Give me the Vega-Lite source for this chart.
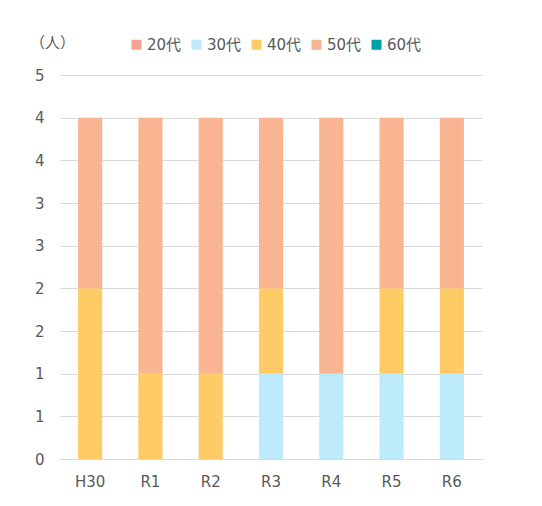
{
  "$schema": "https://vega.github.io/schema/vega-lite/v6.json",
  "width": 422,
  "height": 384,
  "autosize": {"type": "none"},
  "padding": {"left": 60, "top": 75, "right": 60, "bottom": 47},
  "background": "white",
  "config": {
    "view": {"stroke": null},
    "font": "DejaVu Sans, Noto Sans CJK JP, sans-serif",
    "axis": {"labelFont": "DejaVu Sans, Noto Sans CJK JP", "labelFontSize": 15, "labelColor": "#595959", "titleColor": "#595959"},
    "legend": {"labelFont": "DejaVu Sans, Noto Sans CJK JP", "labelFontSize": 15, "labelColor": "#595959"}
  },
  "data": {
    "values": [
      {"year": "H30", "age": "40代", "count": 2},
      {"year": "H30", "age": "50代", "count": 2},
      {"year": "R1", "age": "40代", "count": 1},
      {"year": "R1", "age": "50代", "count": 3},
      {"year": "R2", "age": "40代", "count": 1},
      {"year": "R2", "age": "50代", "count": 3},
      {"year": "R3", "age": "30代", "count": 1},
      {"year": "R3", "age": "40代", "count": 1},
      {"year": "R3", "age": "50代", "count": 2},
      {"year": "R4", "age": "30代", "count": 1},
      {"year": "R4", "age": "50代", "count": 3},
      {"year": "R5", "age": "30代", "count": 1},
      {"year": "R5", "age": "40代", "count": 1},
      {"year": "R5", "age": "50代", "count": 2},
      {"year": "R6", "age": "30代", "count": 1},
      {"year": "R6", "age": "40代", "count": 1},
      {"year": "R6", "age": "50代", "count": 2}
    ]
  },
  "mark": {"type": "bar"},
  "encoding": {
    "x": {
      "field": "year", "type": "nominal", "sort": null,
      "scale": {"paddingInner": 0.6, "paddingOuter": 0.3},
      "axis": {"title": null, "labelAngle": 0, "ticks": false, "domain": true, "domainColor": "#D9D9D9", "domainWidth": 1, "labelPadding": 15}
    },
    "y": {
      "field": "count", "type": "quantitative", "stack": "zero",
      "scale": {"domain": [0, 4.5], "nice": false},
      "axis": {
        "values": [0, 0.5, 1, 1.5, 2, 2.5, 3, 3.5, 4, 4.5],
        "labelExpr": "toString(round(datum.value))",
        "ticks": false, "domain": false, "gridColor": "#D9D9D9", "gridWidth": 1,
        "labelPadding": 16,
        "title": "（人）", "titleAngle": 0, "titleX": -8, "titleY": -33,
        "titleAlign": "center", "titleBaseline": "middle", "titleFontSize": 15, "titleFontWeight": "normal",
        "titleFont": "DejaVu Sans, Noto Sans CJK JP"
      }
    },
    "color": {
      "field": "age", "type": "nominal",
      "scale": {
        "domain": ["20代", "30代", "40代", "50代", "60代"],
        "range": ["#F7A38F", "#BDEBFB", "#FECB67", "#F9B591", "#00A2A7"]
      },
      "legend": {
        "title": null, "orient": "none", "direction": "horizontal",
        "legendX": 69, "legendY": -38, "padding": 0,
        "symbolType": "square", "symbolSize": 100, "symbolStrokeWidth": 0,
        "labelOffset": 3, "columnPadding": 7
      }
    },
    "order": {"field": "age", "sort": "ascending"}
  }
}
